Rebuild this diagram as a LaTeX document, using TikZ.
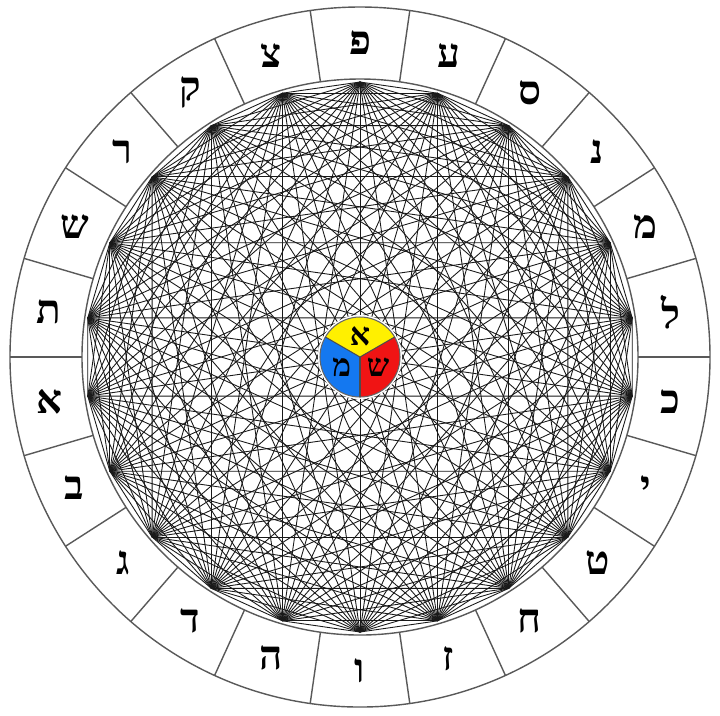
\documentclass[tikz,border=0pt]{standalone}
\usepackage{fontspec}
\newfontfamily\hebfont[Script=Hebrew]{Liberation Serif}
\usetikzlibrary{calc}
\definecolor{coreyellow}{RGB}{255,240,0}
\definecolor{corered}{RGB}{240,20,20}
\definecolor{coreblue}{RGB}{20,120,240}
\begin{document}
\begin{tikzpicture}[
  chord/.style={line width=0.25pt, draw=black!90},
  ring/.style={line width=0.4pt, draw=black!65},
  letter/.style={font=\hebfont\bfseries\fontsize{11.5}{13}\selectfont, inner sep=0pt},
  core/.style={font=\hebfont\bfseries\fontsize{9}{10}\selectfont, inner sep=0pt}
]
\useasboundingbox (-3.60,-3.58) rectangle (3.60,3.57);

% ring with the 22 letters
\draw[ring] (0,0) circle (3.50);
\draw[ring] (0,0) circle (2.78);
\foreach \k in {0,...,21} {
  \coordinate (a\k) at ({180+\k*360/22}:2.78);
  \coordinate (b\k) at ({180+\k*360/22}:3.50);
  \draw[ring] (a\k) -- (b\k);
}
\foreach \l [count=\k] in {א,ב,ג,ד,ה,ו,ז,ח,ט,י,כ,ל,מ,נ,ס,ע,פ,צ,ק,ר,ש,ת}
  \node[letter] (l\k) at ({180+360/44+(\k-1)*360/22}:3.14) {\l};

% 22 points on the circle
\foreach \k in {1,...,22}
  \coordinate (p\k) at ({180+360/44+(\k-1)*360/22}:2.75);

% every pair joined
\foreach \i in {1,...,21} {
  \pgfmathtruncatemacro\nxt{\i+1}
  \foreach \j in {\nxt,...,22}
    \draw[chord] (p\i) -- (p\j);
}

% centre disc, three mothers
\coordinate (o) at (0,0);
\fill[white] (o) circle (0.42);
\fill[coreyellow] (o) -- (30:0.40) arc (30:150:0.40) -- cycle;
\fill[corered] (o) -- (-90:0.40) arc (-90:30:0.40) -- cycle;
\fill[coreblue] (o) -- (150:0.40) arc (150:270:0.40) -- cycle;
\draw[line width=0.3pt, black!60] (o) circle (0.40);
\foreach \a in {30,150,270}
  \draw[line width=0.3pt, black!70] (o) -- (\a:0.40);
\node[core] (alef) at (90:0.21) {א};
\node[core] (shin) at (-30:0.21) {ש};
\node[core] (mem) at (210:0.21) {מ};
\end{tikzpicture}
\end{document}
